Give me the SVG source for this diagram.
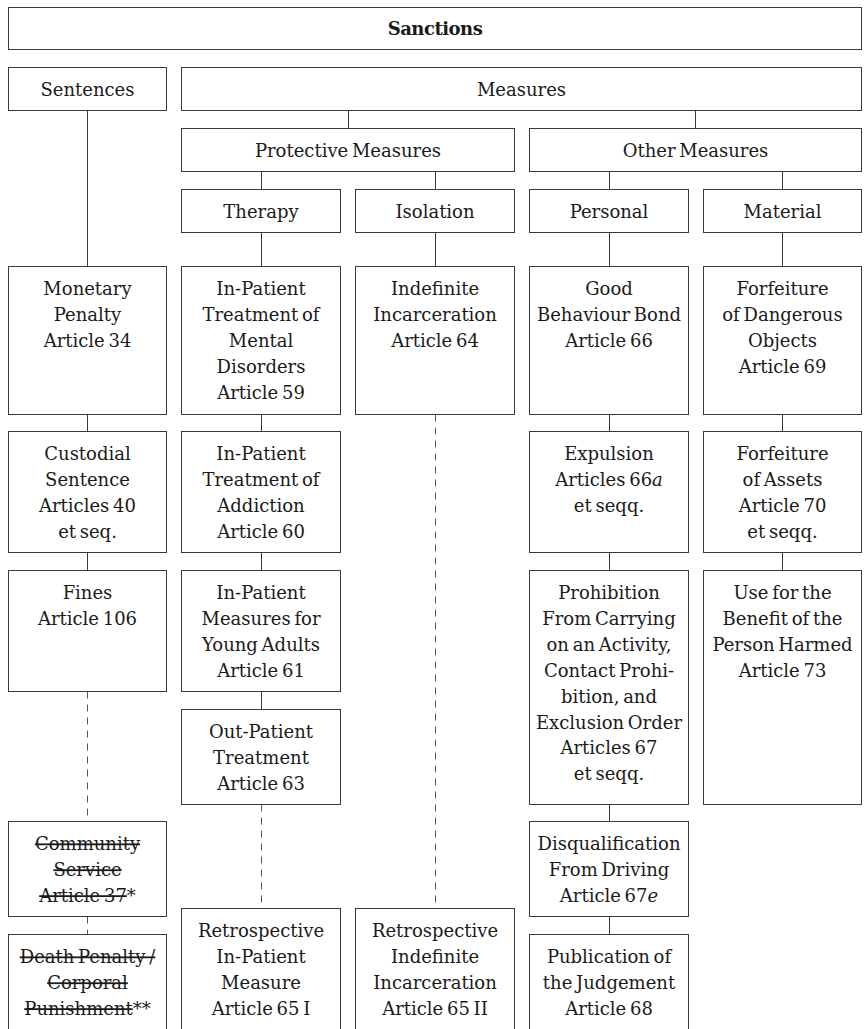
<svg xmlns="http://www.w3.org/2000/svg" width="864" height="1029" viewBox="0 0 864 1029">
<style>
.box{fill:#fff;stroke:#3a3a3a;stroke-width:1}
.t{font-family:"DejaVu Serif","Liberation Serif",serif;font-size:18px;fill:#1a1a1a;text-anchor:middle;word-spacing:-2px}
.t.b{font-weight:bold;font-size:18px;letter-spacing:-0.5px}
.i{font-style:italic}
.s{text-decoration:line-through}
.c{stroke:#3a3a3a;stroke-width:1;fill:none}
.d{stroke:#555;stroke-dasharray:7 6}
</style>
<rect width="864" height="1029" fill="#fff"/>
<g id="connectors">
<path class="c" d="M348.5 110.5V128.5M695.5 110.5V128.5M261.5 171.5V189.5M435.5 171.5V189.5M609.5 171.5V189.5M782.5 171.5V189.5"/>
<path class="c" d="M87.5 110.5V266.5M87.5 414.5V431.5M87.5 552.5V570.5"/>
<path class="c" d="M261.5 232.5V266.5M261.5 414.5V431.5M261.5 552.5V570.5M261.5 691.5V709.5"/>
<path class="c" d="M435.5 232.5V266.5"/>
<path class="c" d="M609.5 232.5V266.5M609.5 414.5V431.5M609.5 552.5V570.5M609.5 804.5V821.5M609.5 916.5V934.5"/>
<path class="c" d="M782.5 232.5V266.5M782.5 414.5V431.5M782.5 552.5V570.5"/>
<path class="c d" d="M87.5 691.5V821.5M87.5 916.5V934.5M261.5 804.5V908.5M435.5 414.5V908.5"/>
</g>
<g id="sanctions"><rect class="box" x="8.5" y="7.5" width="853" height="42"/><text class="t b" x="435" y="35">Sanctions</text></g>
<g id="sentences"><rect class="box" x="8.5" y="67.5" width="158" height="43"/><text class="t" x="87.5" y="95.5">Sentences</text></g>
<g id="measures"><rect class="box" x="181.5" y="67.5" width="680" height="43"/><text class="t" x="521.5" y="95.5">Measures</text></g>
<g id="protective"><rect class="box" x="181.5" y="128.5" width="333" height="43"/><text class="t" x="348" y="156.5">Protective Measures</text></g>
<g id="other"><rect class="box" x="529.5" y="128.5" width="332" height="43"/><text class="t" x="695.5" y="156.5">Other Measures</text></g>
<g id="therapy"><rect class="box" x="181.5" y="189.5" width="159" height="43"/><text class="t" x="261" y="217.5">Therapy</text></g>
<g id="isolation"><rect class="box" x="355.5" y="189.5" width="159" height="43"/><text class="t" x="435" y="217.5">Isolation</text></g>
<g id="personal"><rect class="box" x="529.5" y="189.5" width="159" height="43"/><text class="t" x="609" y="217.5">Personal</text></g>
<g id="material"><rect class="box" x="703.5" y="189.5" width="158" height="43"/><text class="t" x="782.5" y="217.5">Material</text></g>

<g id="monetary"><rect class="box" x="8.5" y="266.5" width="158" height="148"/><text class="t" y="295"><tspan x="87.5">Monetary</tspan><tspan x="87.5" dy="25.9">Penalty</tspan><tspan x="87.5" dy="25.9">Article 34</tspan></text></g>
<g id="ipt-mental"><rect class="box" x="181.5" y="266.5" width="159" height="148"/><text class="t" y="295"><tspan x="261">In-Patient</tspan><tspan x="261" dy="25.9">Treatment of</tspan><tspan x="261" dy="25.9">Mental</tspan><tspan x="261" dy="25.9">Disorders</tspan><tspan x="261" dy="25.9">Article 59</tspan></text></g>
<g id="indefinite"><rect class="box" x="355.5" y="266.5" width="159" height="148"/><text class="t" y="295"><tspan x="435">Indefinite</tspan><tspan x="435" dy="25.9">Incarceration</tspan><tspan x="435" dy="25.9">Article 64</tspan></text></g>
<g id="good-behaviour"><rect class="box" x="529.5" y="266.5" width="159" height="148"/><text class="t" y="295"><tspan x="609">Good</tspan><tspan x="609" dy="25.9">Behaviour Bond</tspan><tspan x="609" dy="25.9">Article 66</tspan></text></g>
<g id="dangerous-objects"><rect class="box" x="703.5" y="266.5" width="158" height="148"/><text class="t" y="295"><tspan x="782.5">Forfeiture</tspan><tspan x="782.5" dy="25.9">of Dangerous</tspan><tspan x="782.5" dy="25.9">Objects</tspan><tspan x="782.5" dy="25.9">Article 69</tspan></text></g>

<g id="custodial"><rect class="box" x="8.5" y="431.5" width="158" height="121"/><text class="t" y="460"><tspan x="87.5">Custodial</tspan><tspan x="87.5" dy="25.9">Sentence</tspan><tspan x="87.5" dy="25.9">Articles 40</tspan><tspan x="87.5" dy="25.9">et seq.</tspan></text></g>
<g id="ipt-addiction"><rect class="box" x="181.5" y="431.5" width="159" height="121"/><text class="t" y="460"><tspan x="261">In-Patient</tspan><tspan x="261" dy="25.9">Treatment of</tspan><tspan x="261" dy="25.9">Addiction</tspan><tspan x="261" dy="25.9">Article 60</tspan></text></g>
<g id="expulsion"><rect class="box" x="529.5" y="431.5" width="159" height="121"/><text class="t" y="460"><tspan x="609">Expulsion</tspan><tspan x="609" dy="25.9">Articles 66<tspan class="i">a</tspan></tspan><tspan x="609" dy="25.9">et seqq.</tspan></text></g>
<g id="assets"><rect class="box" x="703.5" y="431.5" width="158" height="121"/><text class="t" y="460"><tspan x="782.5">Forfeiture</tspan><tspan x="782.5" dy="25.9">of Assets</tspan><tspan x="782.5" dy="25.9">Article 70</tspan><tspan x="782.5" dy="25.9">et seqq.</tspan></text></g>

<g id="fines"><rect class="box" x="8.5" y="570.5" width="158" height="121"/><text class="t" y="599"><tspan x="87.5">Fines</tspan><tspan x="87.5" dy="25.9">Article 106</tspan></text></g>
<g id="young-adults"><rect class="box" x="181.5" y="570.5" width="159" height="121"/><text class="t" y="599"><tspan x="261">In-Patient</tspan><tspan x="261" dy="25.9">Measures for</tspan><tspan x="261" dy="25.9">Young Adults</tspan><tspan x="261" dy="25.9">Article 61</tspan></text></g>
<g id="prohibition"><rect class="box" x="529.5" y="570.5" width="159" height="234"/><text class="t" y="599"><tspan x="609">Prohibition</tspan><tspan x="609" dy="25.9">From Carrying</tspan><tspan x="609" dy="25.9">on an Activity,</tspan><tspan x="609" dy="25.9">Contact Prohi-</tspan><tspan x="609" dy="25.9">bition, and</tspan><tspan x="609" dy="25.9">Exclusion Order</tspan><tspan x="609" dy="25.9">Articles 67</tspan><tspan x="609" dy="25.9">et seqq.</tspan></text></g>
<g id="benefit"><rect class="box" x="703.5" y="570.5" width="158" height="234"/><text class="t" y="599"><tspan x="782.5">Use for the</tspan><tspan x="782.5" dy="25.9">Benefit of the</tspan><tspan x="782.5" dy="25.9">Person Harmed</tspan><tspan x="782.5" dy="25.9">Article 73</tspan></text></g>

<g id="out-patient"><rect class="box" x="181.5" y="709.5" width="159" height="95"/><text class="t" y="738"><tspan x="261">Out-Patient</tspan><tspan x="261" dy="25.9">Treatment</tspan><tspan x="261" dy="25.9">Article 63</tspan></text></g>

<g id="community-service"><rect class="box" x="8.5" y="821.5" width="158" height="95"/><text class="t" y="850"><tspan x="87.5" class="s">Community</tspan><tspan x="87.5" dy="25.9" class="s">Service</tspan><tspan x="87.5" dy="25.9"><tspan class="s">Article 37</tspan>*</tspan></text></g>
<g id="disqualification"><rect class="box" x="529.5" y="821.5" width="159" height="95"/><text class="t" y="850"><tspan x="609">Disqualification</tspan><tspan x="609" dy="25.9">From Driving</tspan><tspan x="609" dy="25.9">Article 67<tspan class="i">e</tspan></tspan></text></g>

<g id="retro-inpatient"><rect class="box" x="181.5" y="908.5" width="159" height="130"/><text class="t" y="937"><tspan x="261">Retrospective</tspan><tspan x="261" dy="25.9">In-Patient</tspan><tspan x="261" dy="25.9">Measure</tspan><tspan x="261" dy="25.9">Article 65 I</tspan></text></g>
<g id="retro-indefinite"><rect class="box" x="355.5" y="908.5" width="159" height="130"/><text class="t" y="937"><tspan x="435">Retrospective</tspan><tspan x="435" dy="25.9">Indefinite</tspan><tspan x="435" dy="25.9">Incarceration</tspan><tspan x="435" dy="25.9">Article 65 II</tspan></text></g>

<g id="death-penalty"><rect class="box" x="8.5" y="934.5" width="158" height="110"/><text class="t" y="963"><tspan x="87.5" class="s">Death Penalty /</tspan><tspan x="87.5" dy="25.9" class="s">Corporal</tspan><tspan x="87.5" dy="25.9"><tspan class="s">Punishment</tspan>**</tspan></text></g>
<g id="publication"><rect class="box" x="529.5" y="934.5" width="159" height="110"/><text class="t" y="963"><tspan x="609">Publication of</tspan><tspan x="609" dy="25.9">the Judgement</tspan><tspan x="609" dy="25.9">Article 68</tspan></text></g>
</svg>
